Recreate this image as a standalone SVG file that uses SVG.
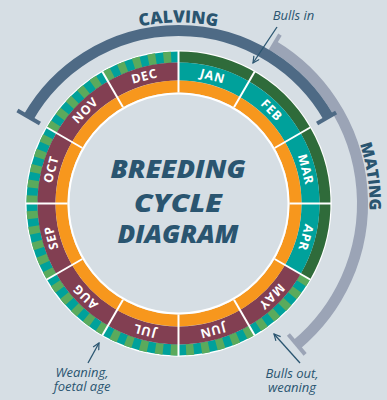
<svg xmlns="http://www.w3.org/2000/svg" width="387" height="400" viewBox="0 0 387 400">
<style>
.mon{font-family:"Open Sans","Liberation Sans",sans-serif;font-weight:700;font-size:12.5px;fill:#fff;text-anchor:middle;letter-spacing:0.8px}
.title{font-family:"Open Sans","Liberation Sans",sans-serif;font-weight:800;font-style:italic;font-size:25px;fill:#2A5570;text-anchor:middle}
.arcl{font-family:"Open Sans","Liberation Sans",sans-serif;font-weight:800;font-size:17px;fill:#2A5570;text-anchor:middle}
.note{font-family:"Open Sans","Liberation Sans",sans-serif;font-style:italic;font-size:13px;fill:#2A5570;text-anchor:middle}
.div{stroke:#fff;stroke-width:2}
.conn{stroke:#2A5570;stroke-width:1.3;fill:none}
</style>
<defs>
<marker id="ah" viewBox="0 0 10 10" refX="9" refY="5" markerWidth="8" markerHeight="8" markerUnits="userSpaceOnUse" orient="auto">
<path d="M1,1 L9,5 L1,9" fill="none" stroke="#2A5570" stroke-width="1.5"/>
</marker>
<path id="calvPath" d="M62.15,64.85 A181,181 0 0 1 294.85,64.85"/>
<path id="matPath" d="M293.45,51.0 A191,191 0 0 1 331.05,318.3"/>
</defs>
<rect width="387" height="400" fill="#D6DEE4"/>

<g id="wheel">
<circle cx="178.5" cy="203.5" r="152" fill="none" stroke="#fff" stroke-width="2.5"/>
<path d="M178.5,57 A146.5,146.5 0 0 1 305.37,276.75" fill="none" stroke="#2F6B3A" stroke-width="11"/>
<path d="M305.37,276.75 A146.5,146.5 0 1 1 178.5,57" fill="none" stroke="#00A19B" stroke-width="11"/>
<path d="M305.37,276.75 A146.5,146.5 0 1 1 178.5,57" fill="none" stroke="#5BAA5C" stroke-width="11" stroke-dasharray="7.67 7.67"/>
<path d="M178.5,71.5 A132,132 0 0 1 292.82,269.5" fill="none" stroke="#00A19B" stroke-width="18"/>
<path d="M292.82,269.5 A132,132 0 1 1 178.5,71.5" fill="none" stroke="#823F52" stroke-width="18"/>
<circle cx="178.5" cy="203.5" r="117" fill="none" stroke="#F7971D" stroke-width="12"/>
<circle cx="178.5" cy="203.5" r="110" fill="#D6DEE4" stroke="#fff" stroke-width="2"/>
</g>

<g id="dividers">
<line class="div" x1="178.5" y1="92.5" x2="178.5" y2="51" transform="rotate(0 178.5 203.5)"/>
<line class="div" x1="178.5" y1="92.5" x2="178.5" y2="51" transform="rotate(30 178.5 203.5)"/>
<line class="div" x1="178.5" y1="92.5" x2="178.5" y2="51" transform="rotate(60 178.5 203.5)"/>
<line class="div" x1="178.5" y1="92.5" x2="178.5" y2="51" transform="rotate(90 178.5 203.5)"/>
<line class="div" x1="178.5" y1="92.5" x2="178.5" y2="51" transform="rotate(120 178.5 203.5)"/>
<line class="div" x1="178.5" y1="92.5" x2="178.5" y2="51" transform="rotate(150 178.5 203.5)"/>
<line class="div" x1="178.5" y1="92.5" x2="178.5" y2="51" transform="rotate(180 178.5 203.5)"/>
<line class="div" x1="178.5" y1="92.5" x2="178.5" y2="51" transform="rotate(210 178.5 203.5)"/>
<line class="div" x1="178.5" y1="92.5" x2="178.5" y2="51" transform="rotate(240 178.5 203.5)"/>
<line class="div" x1="178.5" y1="92.5" x2="178.5" y2="51" transform="rotate(270 178.5 203.5)"/>
<line class="div" x1="178.5" y1="92.5" x2="178.5" y2="51" transform="rotate(300 178.5 203.5)"/>
<line class="div" x1="178.5" y1="92.5" x2="178.5" y2="51" transform="rotate(330 178.5 203.5)"/>
</g>

<g id="months">
<g id="jan"><text class="mon" x="178.5" y="76" transform="rotate(15 178.5 203.5)">JAN</text></g>
<g id="feb"><text class="mon" x="178.5" y="76" transform="rotate(45 178.5 203.5)">FEB</text></g>
<g id="mar"><text class="mon" x="178.5" y="76" transform="rotate(75 178.5 203.5)">MAR</text></g>
<g id="apr"><text class="mon" x="178.5" y="76" transform="rotate(105 178.5 203.5)">APR</text></g>
<g id="may"><text class="mon" x="178.5" y="76" transform="rotate(135 178.5 203.5)">MAY</text></g>
<g id="jun"><text class="mon" x="178.5" y="76" transform="rotate(165 178.5 203.5)">JUN</text></g>
<g id="jul"><text class="mon" x="178.5" y="76" transform="rotate(195 178.5 203.5)">JUL</text></g>
<g id="aug"><text class="mon" x="178.5" y="76" transform="rotate(225 178.5 203.5)">AUG</text></g>
<g id="sep"><text class="mon" x="178.5" y="76" transform="rotate(255 178.5 203.5)">SEP</text></g>
<g id="oct"><text class="mon" x="178.5" y="76" transform="rotate(285 178.5 203.5)">OCT</text></g>
<g id="nov"><text class="mon" x="178.5" y="76" transform="rotate(315 178.5 203.5)">NOV</text></g>
<g id="dec"><text class="mon" x="178.5" y="76" transform="rotate(345 178.5 203.5)">DEC</text></g>
</g>

<g id="center-title">
<text class="title" x="178" y="178.3" textLength="135" lengthAdjust="spacingAndGlyphs">BREEDING</text>
<text class="title" x="178" y="211.7" textLength="88" lengthAdjust="spacingAndGlyphs">CYCLE</text>
<text class="title" x="178" y="242.7" textLength="121" lengthAdjust="spacingAndGlyphs">DIAGRAM</text>
</g>

<g id="mating">
<path d="M273.27,45.78 A184,184 0 0 1 296.77,344.45" fill="none" stroke="#9BA4B6" stroke-width="11"/>
<line x1="266.57" y1="56.92" x2="279.96" y2="34.63" stroke="#9BA4B6" stroke-width="4"/>
<line x1="288.42" y1="334.49" x2="305.13" y2="354.4" stroke="#9BA4B6" stroke-width="4"/>
<text class="arcl" style="font-size:16px"><textPath href="#matPath" startOffset="50%">MATING</textPath></text>
</g>

<g id="calving">
<path d="M28.68,117 A173,173 0 0 1 328.32,117" fill="none" stroke="#4E6A85" stroke-width="11"/>
<line x1="39.94" y1="123.5" x2="17.42" y2="110.5" stroke="#4E6A85" stroke-width="4"/>
<line x1="317.06" y1="123.5" x2="336.12" y2="112.5" stroke="#4E6A85" stroke-width="4"/>
<text class="arcl"><textPath href="#calvPath" startOffset="50%">CALVING</textPath></text>
</g>

<g id="connectors">
<line class="conn" x1="277" y1="27" x2="253" y2="63" marker-end="url(#ah)"/>
<line class="conn" x1="88" y1="363" x2="99" y2="343" marker-end="url(#ah)"/>
<line class="conn" x1="300" y1="363" x2="274" y2="334" marker-end="url(#ah)"/>
</g>

<g id="bulls-in"><text class="note" x="293.5" y="20">Bulls in</text></g>
<g id="weaning-foetal"><text class="note" x="82" y="377">Weaning,<tspan x="82" dy="14">foetal age</tspan></text></g>
<g id="bulls-out"><text class="note" x="292" y="378">Bulls out,<tspan x="292" dy="14">weaning</tspan></text></g>
</svg>
